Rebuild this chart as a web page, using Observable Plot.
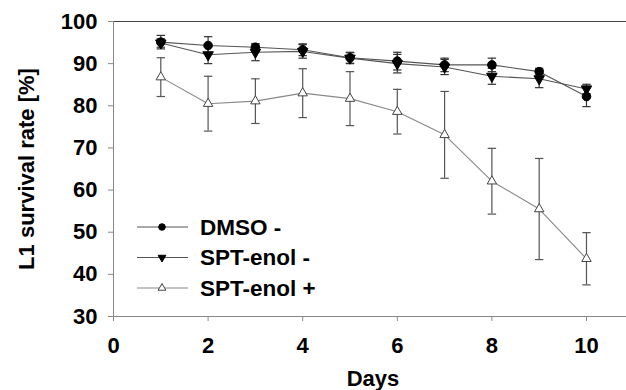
<!DOCTYPE html>
<html><head><meta charset="utf-8">
<script src="https://cdn.jsdelivr.net/npm/d3@7"></script>
<script src="https://cdn.jsdelivr.net/npm/@observablehq/plot@0.6"></script>
<style>
body{margin:0;background:#fff}
#chart svg{display:block}
</style>
</head><body><div id="chart"></div>
<script>
const days = [1, 2, 3, 4, 5, 6, 7, 8, 9, 10];
const seriesNames = ["DMSO -", "SPT-enol -", "SPT-enol +"];
const dmsoMean = [95.1, 94.3, 93.9, 93.3, 91.4, 90.6, 89.7, 89.7, 88.1, 82.2];
const dmsoErr  = [1.6, 2.1, 0.8, 1.4, 1.3, 2.1, 1.6, 1.6, 0.8, 2.4];
const sptNegMean = [94.9, 92.1, 92.7, 92.9, 91.3, 90.0, 89.2, 87.0, 86.4, 84.0];
const sptNegErr  = [1.0, 2.1, 2.0, 1.6, 1.3, 2.2, 1.8, 1.9, 2.1, 1.1];
const sptPosMean = [86.8, 80.5, 81.1, 83.0, 81.7, 78.6, 73.1, 62.1, 55.5, 43.7];
const sptPosErr  = [4.6, 6.5, 5.3, 5.8, 6.4, 5.3, 10.3, 7.8, 12.0, 6.2];
const xTicks = [0, 2, 4, 6, 8, 10];
const yTicks = [30, 40, 50, 60, 70, 80, 90, 100];

const means = [dmsoMean, sptNegMean, sptPosMean];
const errs = [dmsoErr, sptNegErr, sptPosErr];
const rows = seriesNames.flatMap((s, k) => days.map((d, i) => ({
  series: s, day: d, mean: means[k][i], lo: means[k][i] - errs[k][i], hi: means[k][i] + errs[k][i]
})));
const of = s => rows.filter(r => r.series === s);

const hline = {draw(ctx, size) { const r = Math.sqrt(size / Math.PI); ctx.moveTo(-r, 0); ctx.lineTo(r, 0); }};

const style = {
  "DMSO -": {line: "#555", err: "#333", symbol: "circle", fill: "#000", stroke: "#000", r: 4.3, rotate: 0},
  "SPT-enol -": {line: "#555", err: "#333", symbol: "triangle", fill: "#000", stroke: "#000", r: 3.9, rotate: 180},
  "SPT-enol +": {line: "#888", err: "#555", symbol: "triangle", fill: "#fff", stroke: "#444", r: 3.5, rotate: 0}
};

const marks = [
  Plot.ruleY([100], {stroke: "#444", strokeWidth: 1.2}),
  Plot.ruleX([0], {stroke: "#888"}),
  Plot.ruleY([30], {stroke: "#888"}),
  Plot.axisX({ticks: xTicks, tickSize: 5, tickPadding: 16, stroke: "#888", label: null, fill: "#000"}),
  Plot.axisY({ticks: yTicks, tickSize: 5, tickPadding: 11, stroke: "#888", label: null, fill: "#000"}),
  Plot.text(["L1 survival rate [%]"], {frameAnchor: "left", dx: -80, rotate: -90, lineAnchor: "bottom", textAnchor: "middle", fontSize: 22, fontWeight: "bold", fill: "#000"}),
  Plot.text(["Days"], {frameAnchor: "bottom", dx: 3, dy: 69, lineAnchor: "bottom", textAnchor: "middle", fontSize: 22, fontWeight: "bold", fill: "#000"})
];
for (const s of ["SPT-enol +", "SPT-enol -", "DMSO -"]) {
  const st = style[s];
  marks.push(
    Plot.ruleX(of(s), {x: "day", y1: "lo", y2: "hi", stroke: st.err, strokeWidth: 1.2}),
    Plot.dot(of(s), {x: "day", y: "lo", symbol: hline, r: 4.2, stroke: st.err, strokeWidth: 1.2}),
    Plot.dot(of(s), {x: "day", y: "hi", symbol: hline, r: 4.2, stroke: st.err, strokeWidth: 1.2}),
    Plot.line(of(s), {x: "day", y: "mean", stroke: st.line, strokeWidth: 1.1})
  );
}
for (const s of ["SPT-enol +", "SPT-enol -", "DMSO -"]) {
  const st = style[s];
  marks.push(Plot.dot(of(s), {x: "day", y: "mean", symbol: st.symbol, r: st.r, rotate: st.rotate, fill: st.fill, stroke: st.stroke, strokeWidth: 1}));
}

const chart = Plot.plot({
  width: 626, height: 390,
  marginLeft: 113, marginTop: 21, marginBottom: 74, marginRight: 0,
  x: {domain: [0, 10.846]},
  y: {domain: [30, 100]},
  style: {fontFamily: "'Liberation Sans', Arial, sans-serif", fontSize: "22px", fontWeight: "bold", background: "#fff", color: "#000"},
  marks
});
document.getElementById("chart").append(chart);

// legend inside the plot area
const svg = d3.select(chart);
const lg = svg.append("g").attr("transform", "translate(137,227)").attr("text-anchor", "start");
const legendSym = {"DMSO -": {type: d3.symbolCircle, size: 34, rot: 0}, "SPT-enol -": {type: d3.symbolTriangle, size: 26, rot: 180}, "SPT-enol +": {type: d3.symbolTriangle, size: 26, rot: 0}};
seriesNames.forEach((s, i) => {
  const st = style[s];
  const g = lg.append("g").attr("transform", `translate(0,${i * 30.5})`);
  g.append("line").attr("x1", 0).attr("x2", 51).attr("y1", 0).attr("y2", 0).attr("stroke", st.line).attr("stroke-width", 1.1);
  g.append("path").attr("d", d3.symbol(legendSym[s].type, legendSym[s].size)())
    .attr("transform", `translate(25,0) rotate(${legendSym[s].rot})`)
    .attr("fill", st.fill).attr("stroke", st.stroke).attr("stroke-width", 1);
  g.append("text").attr("x", 63).attr("y", 0).attr("dy", "0.35em").attr("text-anchor", "start")
    .attr("font-size", 22.5).attr("font-weight", "bold").attr("fill", "#000").text(s);
});
</script>
</body></html>
